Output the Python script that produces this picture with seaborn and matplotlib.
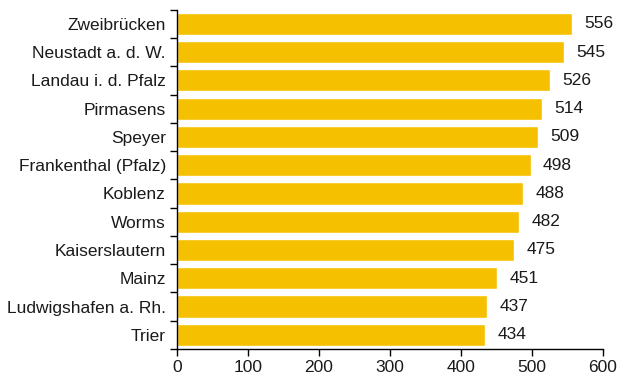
import numpy as np
import pandas as pd
import matplotlib
matplotlib.use('Agg')
import matplotlib.pyplot as plt
import seaborn as sns

# Data
cities = ['Zweibrücken', 'Neustadt a. d. W.', 'Landau i. d. Pfalz', 'Pirmasens',
          'Speyer', 'Frankenthal (Pfalz)', 'Koblenz', 'Worms', 'Kaiserslautern',
          'Mainz', 'Ludwigshafen a. Rh.', 'Trier']
values = [556, 545, 526, 514, 509, 498, 488, 482, 475, 451, 437, 434]
x_ticks = [0, 100, 200, 300, 400, 500, 600]

df = pd.DataFrame({'city': cities, 'value': values})

sns.set_style('white')
plt.rcParams['font.family'] = ['Liberation Sans', 'DejaVu Sans']

fig = plt.figure(figsize=(6.21, 3.78), dpi=100)
ax = fig.add_axes([0.285, 0.077, 0.686, 0.897])

sns.barplot(data=df, x='value', y='city', orient='h', color='#F5C000',
            saturation=1, width=0.78, ax=ax)

for i, v in enumerate(values):
    ax.text(v + 17, i, str(v), va='center', ha='left', fontsize=12.5, color='#1a1a1a')

ax.set_xlim(0, 600)
ax.set_ylim(len(cities) - 0.5, -0.5)
ax.set_xticks(x_ticks)
ax.set_xlabel('')
ax.set_ylabel('')
ax.tick_params(axis='x', bottom=True, length=5, width=1, color='black',
               direction='out', labelsize=12.5, labelcolor='#1a1a1a', pad=3)
ax.tick_params(axis='y', which='major', left=True, length=0, labelsize=12.5,
               labelcolor='#1a1a1a', pad=8)
ax.set_yticks(np.arange(-0.5, len(cities), 1), minor=True)
ax.tick_params(axis='y', which='minor', left=True, length=5, width=1,
               color='black', direction='out')

for s in ['top', 'right']:
    ax.spines[s].set_visible(False)
for s in ['left', 'bottom']:
    ax.spines[s].set_color('black')
    ax.spines[s].set_linewidth(1)

fig.savefig('out.png', dpi=100)
